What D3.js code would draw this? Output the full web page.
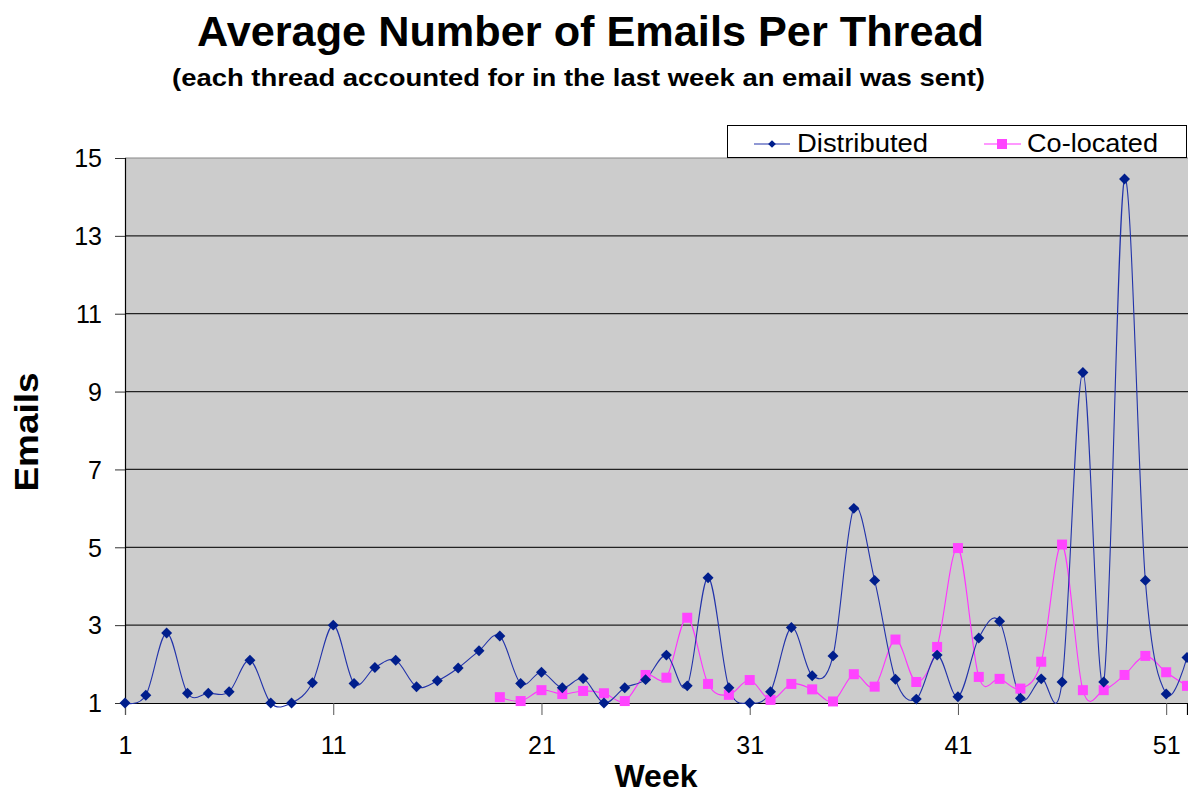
<!DOCTYPE html>
<html><head><meta charset="utf-8">
<script src="https://cdn.jsdelivr.net/npm/d3@7"></script>
<style>body{margin:0;background:#fff}svg{display:block;font-family:"Liberation Sans",Arial,sans-serif}</style>
</head><body><svg id="c" width="1188" height="793"></svg>
<script>
const weeks = d3.range(1, 53);
const distributed = [1.0,1.2,2.8,1.25,1.25,1.29,2.1,1.0,1.0,1.52,3.0,1.5,1.91,2.1,1.42,1.57,1.9,2.34,2.72,1.5,1.79,1.39,1.63,1.0,1.39,1.6,2.23,1.44,4.22,1.39,1.0,1.29,2.94,1.7,2.21,6.0,4.15,1.61,1.1,2.23,1.16,2.67,3.1,1.12,1.62,1.54,9.49,1.54,14.46,4.15,1.23,2.17];
const colocatedStart = 19;
const colocated = [1.15,1.05,1.33,1.23,1.31,1.25,1.05,1.72,1.65,3.19,1.49,1.21,1.59,1.08,1.49,1.35,1.04,1.74,1.42,2.63,1.54,2.44,4.98,1.67,1.62,1.37,2.06,5.07,1.33,1.33,1.72,2.21,1.79,1.44];
const yTicks = [1,3,5,7,9,11,13,15];
const xTicks = [1,11,21,31,41,51];
const seriesNames = ["Distributed","Co-located"];

const svg = d3.select("#c");
const L=125, R=1188, T=158, B=703;
const x = d3.scaleLinear().domain([1,52]).range([L,1187]);
const y = d3.scaleLinear().domain([1,15]).range([B,T]);

svg.append("rect").attr("x",L).attr("y",T).attr("width",R-L).attr("height",B-T).attr("fill","#cccccc");
// gridlines
svg.append("g").selectAll("line").data(yTicks.slice(1)).join("line")
  .attr("x1",L).attr("x2",R).attr("y1",d=>y(d)).attr("y2",d=>y(d))
  .attr("stroke",d=>d===15?"#888":"#222").attr("stroke-width",1.2);
// y axis
const ya = svg.append("g").attr("transform",`translate(${L},0)`)
  .call(d3.axisLeft(y).tickValues(yTicks).tickSize(10).tickPadding(13));
ya.select(".domain").attr("stroke","#000").attr("stroke-width",1.2);
ya.selectAll(".tick line").attr("stroke","#333");
ya.selectAll("text").attr("font-size",25).attr("fill","#000").attr("font-family","Liberation Sans, Arial, sans-serif").attr("dy","0.35em");
// x axis
const xa = svg.append("g").attr("transform",`translate(0,${B})`)
  .call(d3.axisBottom(x).tickValues(xTicks).tickFormat(d3.format("d")).tickSize(12).tickPadding(21));
xa.select(".domain").attr("stroke","#000").attr("stroke-width",1.2);
xa.selectAll(".tick line").attr("stroke","#555");
xa.selectAll("text").attr("font-size",25).attr("fill","#000").attr("font-family","Liberation Sans, Arial, sans-serif");

const line = d3.line().x(d=>x(d.w)).y(d=>y(d.v)).curve(d3.curveCatmullRom.alpha(0));
const dData = weeks.map((w,i)=>({w, v:distributed[i]}));
const cData = colocated.map((v,i)=>({w:colocatedStart+i, v}));

svg.append("path").datum(cData).attr("d",line).attr("fill","none").attr("stroke","#ff33ff").attr("stroke-width",1.1);
svg.append("path").datum(dData).attr("d",line).attr("fill","none").attr("stroke","#2233aa").attr("stroke-width",1.1);

svg.append("g").selectAll("rect").data(cData).join("rect")
  .attr("x",d=>x(d.w)-5).attr("y",d=>y(d.v)-5).attr("width",10).attr("height",10).attr("fill","#ff44ff");
svg.append("g").selectAll("path").data(dData).join("path")
  .attr("d",d3.symbol().type(d3.symbolSquare).size(60))
  .attr("transform",d=>`translate(${x(d.w)},${y(d.v)}) rotate(45)`).attr("fill","#001e8c");

// legend
const lg = svg.append("g");
lg.append("rect").attr("x",727.5).attr("y",125.5).attr("width",459).attr("height",32).attr("fill","#fff").attr("stroke","#000").attr("stroke-width",1);
lg.append("line").attr("x1",754).attr("x2",790).attr("y1",144).attr("y2",144).attr("stroke","#2233aa").attr("stroke-width",1.2);
lg.append("path").attr("d",d3.symbol().type(d3.symbolSquare).size(30)).attr("transform","translate(772,144) rotate(45)").attr("fill","#001e8c");
lg.append("text").attr("x",797).attr("y",152).attr("font-size",25).attr("textLength",131).attr("lengthAdjust","spacingAndGlyphs").text(seriesNames[0]);
lg.append("line").attr("x1",984).attr("x2",1021).attr("y1",144).attr("y2",144).attr("stroke","#ff33ff").attr("stroke-width",1.2);
lg.append("rect").attr("x",997).attr("y",139).attr("width",10).attr("height",10).attr("fill","#ff44ff");
lg.append("text").attr("x",1027).attr("y",152).attr("font-size",25).attr("textLength",131).attr("lengthAdjust","spacingAndGlyphs").text(seriesNames[1]);

// titles
svg.append("text").attr("x",197).attr("y",46).attr("font-weight","bold").attr("font-size",42)
  .attr("textLength",787).attr("lengthAdjust","spacingAndGlyphs").text("Average Number of Emails Per Thread");
svg.append("text").attr("x",172).attr("y",86).attr("font-weight","bold").attr("font-size",24)
  .attr("textLength",813).attr("lengthAdjust","spacingAndGlyphs").text("(each thread accounted for in the last week an email was sent)");
svg.append("text").attr("x",656).attr("y",787).attr("text-anchor","middle").attr("font-weight","bold").attr("font-size",32).text("Week");
svg.append("text").attr("transform","translate(38,432) rotate(-90)").attr("text-anchor","middle").attr("font-weight","bold").attr("font-size",34)
  .attr("textLength",119).attr("lengthAdjust","spacingAndGlyphs").text("Emails");
</script></body></html>
